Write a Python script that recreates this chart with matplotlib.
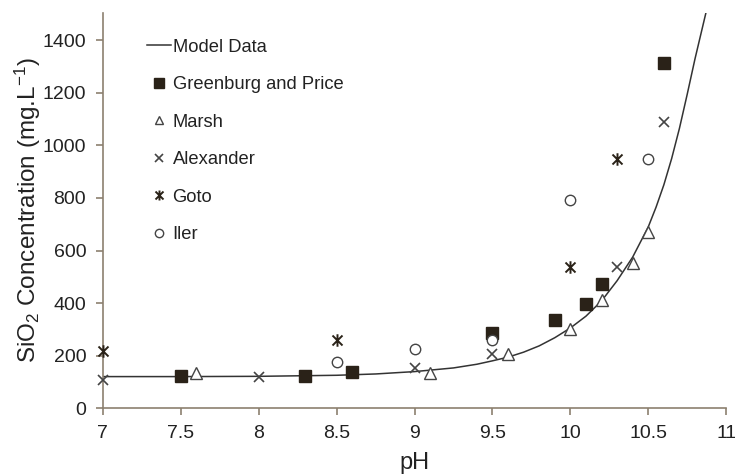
import matplotlib
matplotlib.use("Agg")
import matplotlib.pyplot as plt
from matplotlib.path import Path

plt.rcParams['font.family'] = ['Liberation Sans', 'DejaVu Sans']
plt.rcParams['mathtext.default'] = 'regular'
plt.rcParams['axes.unicode_minus'] = False

# Model curve
model_ph = [7.0, 7.5, 8.0, 8.5, 8.75, 9.0, 9.25, 9.4, 9.5, 9.6, 9.7, 9.8, 9.9, 10.0,
            10.1, 10.2, 10.3, 10.4, 10.5, 10.55, 10.6, 10.65, 10.7, 10.75, 10.8, 10.87]
model_si = [120, 120, 121, 125, 130, 139, 153, 167, 180, 194, 213, 237, 268, 305,
            350, 408, 485, 575, 690, 765, 850, 950, 1065, 1195, 1330, 1505]

gp_ph = [7.5, 8.3, 8.6, 9.5, 9.9, 10.1, 10.2, 10.6]
gp_si = [123, 123, 137, 286, 335, 396, 472, 1315]

marsh_ph = [7.6, 9.1, 9.6, 10.0, 10.2, 10.4, 10.5]
marsh_si = [133, 133, 206, 300, 411, 553, 672]

alex_ph = [7.0, 8.0, 9.0, 9.5, 10.3, 10.6]
alex_si = [107, 118, 153, 206, 537, 1090]

goto_ph = [7.0, 8.5, 10.0, 10.3]
goto_si = [218, 259, 537, 948]

iler_ph = [8.5, 9.0, 9.5, 10.0, 10.5]
iler_si = [176, 225, 259, 792, 948]

x_ticks = [7, 7.5, 8, 8.5, 9, 9.5, 10, 10.5, 11]
y_ticks = [0, 200, 400, 600, 800, 1000, 1200, 1400]

dark = '#2a2218'
ast = Path([(-1, -1), (1, 1), (-1, 1), (1, -1), (0, -1.25), (0, 1.25)],
           [Path.MOVETO, Path.LINETO, Path.MOVETO, Path.LINETO, Path.MOVETO, Path.LINETO])

fig = plt.figure(figsize=(7.35, 4.74), dpi=100)
ax = fig.add_axes([0.140, 0.139, 0.848, 0.834])

ax.plot(model_ph, model_si, color='#333333', lw=1.1, label='Model Data', zorder=2)
ax.plot(gp_ph, gp_si, ls='none', marker='s', ms=8.5, color=dark, mec=dark,
        label='Greenburg and Price', zorder=3, clip_on=False)
ax.plot(marsh_ph, marsh_si, ls='none', marker='^', ms=8, mfc='white', mec='#444444',
        mew=1.0, label='Marsh', zorder=3, clip_on=False)
ax.plot(alex_ph, alex_si, ls='none', marker='x', ms=7.5, color='#444444', mew=1.2,
        label='Alexander', zorder=3, clip_on=False)
ax.plot(goto_ph, goto_si, ls='none', marker=ast, ms=9, color=dark, mew=1.4,
        label='Goto', zorder=3, clip_on=False)
ax.plot(iler_ph, iler_si, ls='none', marker='o', ms=7.5, mfc='white', mec='#444444',
        mew=1.0, label='Iler', zorder=4, clip_on=False)

ax.set_xlim(7, 11)
ax.set_ylim(0, 1505)
ax.set_xticks(x_ticks)
ax.set_xticklabels([f'{t:g}' for t in x_ticks])
ax.set_yticks(y_ticks)

spine_c = '#8c8070'
for s in ['top', 'right']:
    ax.spines[s].set_visible(False)
for s in ['left', 'bottom']:
    ax.spines[s].set_color(spine_c)
    ax.spines[s].set_linewidth(1.2)
ax.tick_params(axis='both', colors=spine_c, labelcolor='#222222', labelsize=14,
               length=5, width=1.2, direction='out')
ax.tick_params(axis='y', pad=7)
ax.tick_params(axis='x', pad=7)

ax.set_xlabel('pH', fontsize=17, color='#222222', labelpad=7)
ax.set_ylabel('SiO$_2$ Concentration (mg.L$^{-1}$)', fontsize=17.5, color='#222222', labelpad=0)

leg = ax.legend(loc='upper left', bbox_to_anchor=(0.047, 0.972), frameon=False, fontsize=13.2,
                labelspacing=1.12, handlelength=1.3, handletextpad=0.1, borderaxespad=0.4,
                markerscale=0.8)
for t in leg.get_texts():
    t.set_color('#222222')

fig.savefig('out.png', dpi=100)
